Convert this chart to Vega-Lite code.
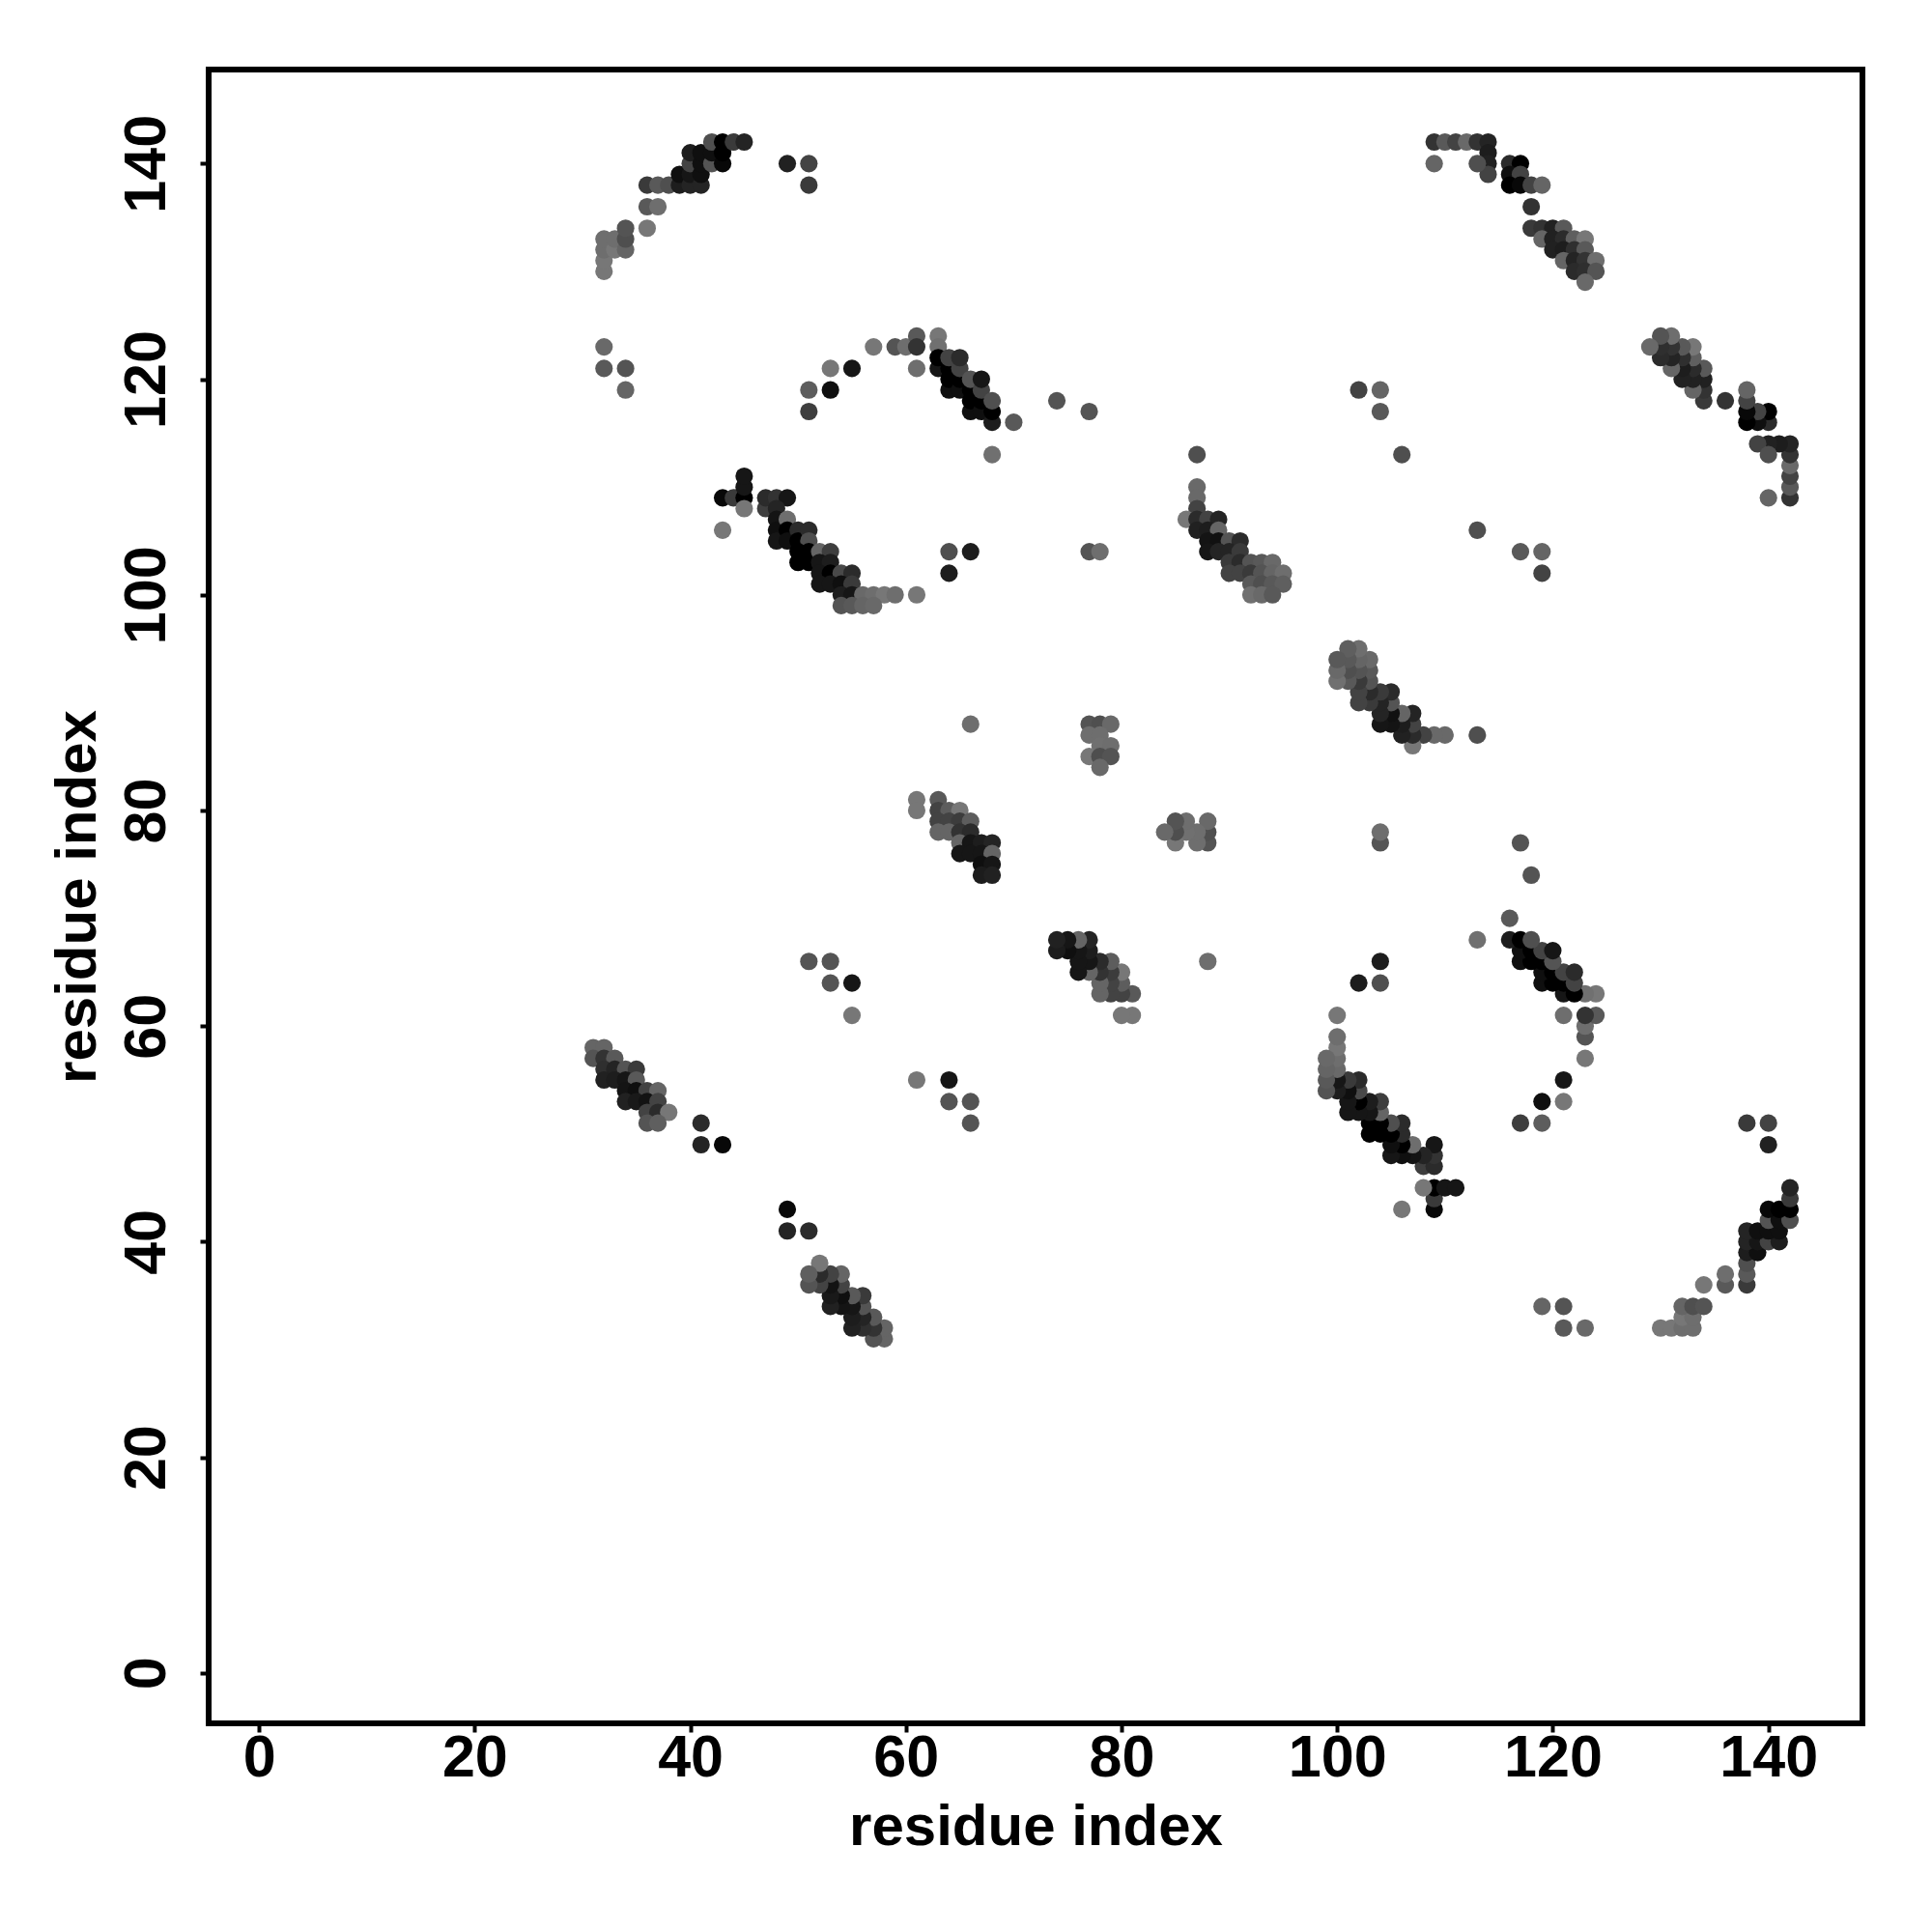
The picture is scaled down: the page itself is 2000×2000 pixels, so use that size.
{"$schema":"https://vega.github.io/schema/vega-lite/v6.json","autosize":"none","padding":{"left":216,"top":72,"right":72,"bottom":216},"width":1712,"height":1712,"background":"white","config":{"view":{"stroke":"#000","strokeWidth":6,"fill":"white"},"font":"Liberation Sans"},
"data":{"values":[
{"x":32,"y":130,"s":119},{"x":32,"y":131,"s":119},{"x":32,"y":132,"s":110},{"x":32,"y":133,"s":110},{"x":33,"y":132,"s":119},{"x":33,"y":133,"s":110},{"x":34,"y":132,"s":102},{"x":34,"y":133,"s":80},{"x":34,"y":134,"s":85},{"x":36,"y":134,"s":119},{"x":36,"y":136,"s":90},{"x":37,"y":136,"s":110},{"x":36,"y":138,"s":58},{"x":37,"y":138,"s":90},{"x":38,"y":138,"s":80},{"x":39,"y":138,"s":26},{"x":39,"y":139,"s":10},{"x":40,"y":138,"s":34},{"x":40,"y":139,"s":17},{"x":40,"y":140,"s":68},{"x":40,"y":141,"s":26},{"x":41,"y":138,"s":34},{"x":41,"y":139,"s":10},{"x":41,"y":140,"s":10},{"x":41,"y":141,"s":10},{"x":42,"y":140,"s":85},{"x":42,"y":141,"s":10},{"x":42,"y":142,"s":80},{"x":43,"y":140,"s":5},{"x":43,"y":141,"s":0},{"x":43,"y":142,"s":0},{"x":44,"y":142,"s":58},{"x":45,"y":142,"s":34},{"x":49,"y":140,"s":30},{"x":51,"y":140,"s":68},{"x":51,"y":138,"s":58},{"x":32,"y":123,"s":106},{"x":32,"y":121,"s":90},{"x":34,"y":121,"s":85},{"x":34,"y":119,"s":102},
{"y":32,"x":130,"s":119},{"y":32,"x":131,"s":119},{"y":32,"x":132,"s":110},{"y":32,"x":133,"s":110},{"y":33,"x":132,"s":119},{"y":33,"x":133,"s":110},{"y":34,"x":132,"s":102},{"y":34,"x":133,"s":80},{"y":34,"x":134,"s":85},{"y":36,"x":134,"s":119},{"y":36,"x":136,"s":90},{"y":37,"x":136,"s":110},{"y":36,"x":138,"s":58},{"y":37,"x":138,"s":90},{"y":38,"x":138,"s":80},{"y":39,"x":138,"s":26},{"y":39,"x":139,"s":10},{"y":40,"x":138,"s":34},{"y":40,"x":139,"s":17},{"y":40,"x":140,"s":68},{"y":40,"x":141,"s":26},{"y":41,"x":138,"s":34},{"y":41,"x":139,"s":10},{"y":41,"x":140,"s":10},{"y":41,"x":141,"s":10},{"y":42,"x":140,"s":85},{"y":42,"x":141,"s":10},{"y":42,"x":142,"s":80},{"y":43,"x":140,"s":5},{"y":43,"x":141,"s":0},{"y":43,"x":142,"s":0},{"y":44,"x":142,"s":58},{"y":45,"x":142,"s":34},{"y":49,"x":140,"s":30},{"y":51,"x":140,"s":68},{"y":51,"x":138,"s":58},{"y":32,"x":123,"s":106},{"y":32,"x":121,"s":90},{"y":34,"x":121,"s":85},{"y":34,"x":119,"s":102},
{"x":51,"y":119,"s":94},{"x":51,"y":117,"s":62},{"x":53,"y":121,"s":119},{"x":53,"y":119,"s":10},{"x":55,"y":121,"s":17},{"x":57,"y":123,"s":119},{"x":59,"y":123,"s":85},{"x":60,"y":123,"s":110},{"x":61,"y":124,"s":90},{"x":61,"y":123,"s":51},{"x":61,"y":121,"s":110},{"x":63,"y":124,"s":119},{"x":63,"y":123,"s":112},{"x":63,"y":121,"s":17},{"x":63,"y":122,"s":0},{"x":64,"y":119,"s":10},{"x":64,"y":120,"s":0},{"x":64,"y":121,"s":0},{"x":64,"y":122,"s":68},{"x":65,"y":119,"s":10},{"x":65,"y":120,"s":0},{"x":65,"y":121,"s":68},{"x":65,"y":122,"s":42},{"x":66,"y":117,"s":10},{"x":66,"y":118,"s":0},{"x":66,"y":119,"s":0},{"x":66,"y":120,"s":85},{"x":67,"y":117,"s":10},{"x":67,"y":118,"s":0},{"x":67,"y":119,"s":68},{"x":67,"y":120,"s":17},{"x":68,"y":116,"s":26},{"x":68,"y":117,"s":0},{"x":68,"y":118,"s":80},{"x":70,"y":116,"s":90},{"x":68,"y":113,"s":112},
{"y":51,"x":119,"s":94},{"y":51,"x":117,"s":62},{"y":53,"x":121,"s":119},{"y":53,"x":119,"s":10},{"y":55,"x":121,"s":17},{"y":57,"x":123,"s":119},{"y":59,"x":123,"s":85},{"y":60,"x":123,"s":110},{"y":61,"x":124,"s":90},{"y":61,"x":123,"s":51},{"y":61,"x":121,"s":110},{"y":63,"x":124,"s":119},{"y":63,"x":123,"s":112},{"y":63,"x":121,"s":17},{"y":63,"x":122,"s":0},{"y":64,"x":119,"s":10},{"y":64,"x":120,"s":0},{"y":64,"x":121,"s":0},{"y":64,"x":122,"s":68},{"y":65,"x":119,"s":10},{"y":65,"x":120,"s":0},{"y":65,"x":121,"s":68},{"y":65,"x":122,"s":42},{"y":66,"x":117,"s":10},{"y":66,"x":118,"s":0},{"y":66,"x":119,"s":0},{"y":66,"x":120,"s":85},{"y":67,"x":117,"s":10},{"y":67,"x":118,"s":0},{"y":67,"x":119,"s":68},{"y":67,"x":120,"s":17},{"y":68,"x":116,"s":26},{"y":68,"x":117,"s":0},{"y":68,"x":118,"s":80},{"y":70,"x":116,"s":90},{"y":68,"x":113,"s":112},
{"x":43,"y":109,"s":5},{"x":44,"y":109,"s":58},{"x":45,"y":109,"s":0},{"x":45,"y":110,"s":17},{"x":45,"y":111,"s":17},{"x":45,"y":108,"s":119},{"x":43,"y":106,"s":119},{"x":47,"y":108,"s":62},{"x":47,"y":109,"s":42},{"x":48,"y":109,"s":51},{"x":49,"y":109,"s":17},{"x":48,"y":108,"s":34},{"x":48,"y":107,"s":15},{"x":48,"y":106,"s":10},{"x":48,"y":105,"s":17},{"x":49,"y":107,"s":110},{"x":49,"y":106,"s":0},{"x":49,"y":105,"s":10},{"x":50,"y":106,"s":42},{"x":50,"y":105,"s":0},{"x":51,"y":106,"s":42},{"x":51,"y":105,"s":80},{"x":50,"y":104,"s":0},{"x":51,"y":104,"s":0},{"x":50,"y":103,"s":0},{"x":51,"y":103,"s":0},{"x":52,"y":104,"s":102},{"x":53,"y":104,"s":62},{"x":52,"y":103,"s":17},{"x":53,"y":103,"s":26},{"x":52,"y":102,"s":17},{"x":53,"y":102,"s":0},{"x":54,"y":102,"s":74},{"x":55,"y":102,"s":42},{"x":52,"y":101,"s":17},{"x":53,"y":101,"s":17},{"x":54,"y":101,"s":10},{"x":55,"y":101,"s":58},{"x":54,"y":100,"s":26},{"x":55,"y":100,"s":17},{"x":56,"y":100,"s":106},{"x":57,"y":100,"s":110},{"x":58,"y":100,"s":119},{"x":59,"y":100,"s":110},{"x":61,"y":100,"s":119},{"x":54,"y":99,"s":85},{"x":55,"y":99,"s":90},{"x":56,"y":99,"s":102},{"x":57,"y":99,"s":106},{"x":64,"y":104,"s":80},{"x":66,"y":104,"s":26},{"x":64,"y":102,"s":26},
{"y":43,"x":109,"s":5},{"y":44,"x":109,"s":58},{"y":45,"x":109,"s":0},{"y":45,"x":110,"s":17},{"y":45,"x":111,"s":17},{"y":45,"x":108,"s":119},{"y":43,"x":106,"s":119},{"y":47,"x":108,"s":62},{"y":47,"x":109,"s":42},{"y":48,"x":109,"s":51},{"y":49,"x":109,"s":17},{"y":48,"x":108,"s":34},{"y":48,"x":107,"s":15},{"y":48,"x":106,"s":10},{"y":48,"x":105,"s":17},{"y":49,"x":107,"s":110},{"y":49,"x":106,"s":0},{"y":49,"x":105,"s":10},{"y":50,"x":106,"s":42},{"y":50,"x":105,"s":0},{"y":51,"x":106,"s":42},{"y":51,"x":105,"s":80},{"y":50,"x":104,"s":0},{"y":51,"x":104,"s":0},{"y":50,"x":103,"s":0},{"y":51,"x":103,"s":0},{"y":52,"x":104,"s":102},{"y":53,"x":104,"s":62},{"y":52,"x":103,"s":17},{"y":53,"x":103,"s":26},{"y":52,"x":102,"s":17},{"y":53,"x":102,"s":0},{"y":54,"x":102,"s":74},{"y":55,"x":102,"s":42},{"y":52,"x":101,"s":17},{"y":53,"x":101,"s":17},{"y":54,"x":101,"s":10},{"y":55,"x":101,"s":58},{"y":54,"x":100,"s":26},{"y":55,"x":100,"s":17},{"y":56,"x":100,"s":106},{"y":57,"x":100,"s":110},{"y":58,"x":100,"s":119},{"y":59,"x":100,"s":110},{"y":61,"x":100,"s":119},{"y":54,"x":99,"s":85},{"y":55,"x":99,"s":90},{"y":56,"x":99,"s":102},{"y":57,"x":99,"s":106},{"y":64,"x":104,"s":80},{"y":66,"x":104,"s":26},{"y":64,"x":102,"s":26},
{"x":31,"y":58,"s":102},{"x":32,"y":58,"s":102},{"x":31,"y":57,"s":85},{"x":32,"y":57,"s":51},{"x":33,"y":57,"s":90},{"x":32,"y":56,"s":46},{"x":33,"y":56,"s":34},{"x":34,"y":56,"s":85},{"x":35,"y":56,"s":58},{"x":32,"y":55,"s":30},{"x":33,"y":55,"s":26},{"x":34,"y":55,"s":17},{"x":35,"y":55,"s":90},{"x":34,"y":54,"s":15},{"x":35,"y":54,"s":10},{"x":36,"y":54,"s":68},{"x":37,"y":54,"s":102},{"x":34,"y":53,"s":30},{"x":35,"y":53,"s":21},{"x":36,"y":53,"s":14},{"x":37,"y":53,"s":68},{"x":36,"y":52,"s":68},{"x":37,"y":52,"s":42},{"x":38,"y":52,"s":119},{"x":36,"y":51,"s":85},{"x":37,"y":51,"s":96},{"x":41,"y":51,"s":42},{"x":41,"y":49,"s":34},{"x":43,"y":49,"s":5},
{"y":31,"x":58,"s":102},{"y":32,"x":58,"s":102},{"y":31,"x":57,"s":85},{"y":32,"x":57,"s":51},{"y":33,"x":57,"s":90},{"y":32,"x":56,"s":46},{"y":33,"x":56,"s":34},{"y":34,"x":56,"s":85},{"y":35,"x":56,"s":58},{"y":32,"x":55,"s":30},{"y":33,"x":55,"s":26},{"y":34,"x":55,"s":17},{"y":35,"x":55,"s":90},{"y":34,"x":54,"s":15},{"y":35,"x":54,"s":10},{"y":36,"x":54,"s":68},{"y":37,"x":54,"s":102},{"y":34,"x":53,"s":30},{"y":35,"x":53,"s":21},{"y":36,"x":53,"s":14},{"y":37,"x":53,"s":68},{"y":36,"x":52,"s":68},{"y":37,"x":52,"s":42},{"y":38,"x":52,"s":119},{"y":36,"x":51,"s":85},{"y":37,"x":51,"s":96},{"y":41,"x":51,"s":42},{"y":41,"x":49,"s":34},{"y":43,"x":49,"s":5},
{"x":51,"y":66,"s":85},{"x":53,"y":66,"s":85},{"x":53,"y":64,"s":85},{"x":55,"y":64,"s":17},{"x":55,"y":61,"s":119},{"y":51,"x":66,"s":85},{"y":53,"x":66,"s":85},{"y":53,"x":64,"s":85},{"y":55,"x":64,"s":17},{"y":55,"x":61,"s":119},
{"x":61,"y":81,"s":119},{"x":63,"y":81,"s":90},{"x":61,"y":80,"s":119},{"x":63,"y":80,"s":68},{"x":64,"y":80,"s":94},{"x":65,"y":80,"s":119},{"x":63,"y":79,"s":68},{"x":64,"y":79,"s":68},{"x":65,"y":79,"s":60},{"x":66,"y":79,"s":94},{"x":63,"y":78,"s":102},{"x":64,"y":78,"s":102},{"x":65,"y":78,"s":51},{"x":66,"y":78,"s":42},{"x":65,"y":77,"s":102},{"x":66,"y":77,"s":17},{"x":67,"y":77,"s":26},{"x":68,"y":77,"s":34},{"x":65,"y":76,"s":17},{"x":66,"y":76,"s":17},{"x":67,"y":76,"s":17},{"x":68,"y":76,"s":102},{"x":67,"y":75,"s":10},{"x":68,"y":75,"s":17},{"x":67,"y":74,"s":24},{"x":68,"y":74,"s":30},
{"y":61,"x":81,"s":119},{"y":63,"x":81,"s":90},{"y":61,"x":80,"s":119},{"y":63,"x":80,"s":68},{"y":64,"x":80,"s":94},{"y":65,"x":80,"s":119},{"y":63,"x":79,"s":68},{"y":64,"x":79,"s":68},{"y":65,"x":79,"s":60},{"y":66,"x":79,"s":94},{"y":63,"x":78,"s":102},{"y":64,"x":78,"s":102},{"y":65,"x":78,"s":51},{"y":66,"x":78,"s":42},{"y":65,"x":77,"s":102},{"y":66,"x":77,"s":17},{"y":67,"x":77,"s":26},{"y":68,"x":77,"s":34},{"y":65,"x":76,"s":17},{"y":66,"x":76,"s":17},{"y":67,"x":76,"s":17},{"y":68,"x":76,"s":102},{"y":67,"x":75,"s":10},{"y":68,"x":75,"s":17},{"y":67,"x":74,"s":24},{"y":68,"x":74,"s":30},
{"x":66,"y":88,"s":110},{"x":77,"y":88,"s":85},{"x":78,"y":88,"s":80},{"x":79,"y":88,"s":106},{"x":77,"y":87,"s":110},{"x":78,"y":87,"s":110},{"x":78,"y":86,"s":112},{"x":79,"y":86,"s":110},{"x":77,"y":85,"s":119},{"x":78,"y":85,"s":79},{"x":79,"y":85,"s":85},{"x":78,"y":84,"s":106},{"x":77,"y":104,"s":85},{"x":78,"y":104,"s":110},{"x":74,"y":118,"s":85},{"x":77,"y":117,"s":85},{"x":87,"y":113,"s":80},
{"y":66,"x":88,"s":110},{"y":77,"x":88,"s":85},{"y":78,"x":88,"s":80},{"y":79,"x":88,"s":106},{"y":77,"x":87,"s":110},{"y":78,"x":87,"s":110},{"y":78,"x":86,"s":112},{"y":79,"x":86,"s":110},{"y":77,"x":85,"s":119},{"y":78,"x":85,"s":79},{"y":79,"x":85,"s":85},{"y":78,"x":84,"s":106},{"y":77,"x":104,"s":85},{"y":78,"x":104,"s":110},{"y":74,"x":118,"s":85},{"y":77,"x":117,"s":85},{"y":87,"x":113,"s":80},
{"x":87,"y":110,"s":106},{"x":87,"y":109,"s":106},{"x":87,"y":108,"s":68},{"x":86,"y":107,"s":119},{"x":87,"y":107,"s":42},{"x":88,"y":107,"s":68},{"x":89,"y":107,"s":34},{"x":87,"y":106,"s":30},{"x":88,"y":106,"s":26},{"x":89,"y":106,"s":102},{"x":88,"y":105,"s":15},{"x":89,"y":105,"s":12},{"x":90,"y":105,"s":85},{"x":91,"y":105,"s":42},{"x":88,"y":104,"s":17},{"x":89,"y":104,"s":34},{"x":90,"y":104,"s":34},{"x":91,"y":104,"s":58},{"x":90,"y":103,"s":58},{"x":91,"y":103,"s":42},{"x":92,"y":103,"s":85},{"x":93,"y":103,"s":90},{"x":94,"y":103,"s":106},{"x":90,"y":102,"s":68},{"x":91,"y":102,"s":68},{"x":92,"y":102,"s":58},{"x":93,"y":102,"s":85},{"x":94,"y":102,"s":102},{"x":95,"y":102,"s":110},{"x":92,"y":101,"s":90},{"x":93,"y":101,"s":80},{"x":94,"y":101,"s":90},{"x":95,"y":101,"s":96},{"x":92,"y":100,"s":112},{"x":93,"y":100,"s":106},{"x":94,"y":100,"s":90},
{"y":87,"x":110,"s":106},{"y":87,"x":109,"s":106},{"y":87,"x":108,"s":68},{"y":86,"x":107,"s":119},{"y":87,"x":107,"s":42},{"y":88,"x":107,"s":68},{"y":89,"x":107,"s":34},{"y":87,"x":106,"s":30},{"y":88,"x":106,"s":26},{"y":89,"x":106,"s":102},{"y":88,"x":105,"s":15},{"y":89,"x":105,"s":12},{"y":90,"x":105,"s":85},{"y":91,"x":105,"s":42},{"y":88,"x":104,"s":17},{"y":89,"x":104,"s":34},{"y":90,"x":104,"s":34},{"y":91,"x":104,"s":58},{"y":90,"x":103,"s":58},{"y":91,"x":103,"s":42},{"y":92,"x":103,"s":85},{"y":93,"x":103,"s":90},{"y":94,"x":103,"s":106},{"y":90,"x":102,"s":68},{"y":91,"x":102,"s":68},{"y":92,"x":102,"s":58},{"y":93,"x":102,"s":85},{"y":94,"x":102,"s":102},{"y":95,"x":102,"s":110},{"y":92,"x":101,"s":90},{"y":93,"x":101,"s":80},{"y":94,"x":101,"s":90},{"y":95,"x":101,"s":96},{"y":92,"x":100,"s":112},{"y":93,"x":100,"s":106},{"y":94,"x":100,"s":90},
{"x":102,"y":119,"s":68},{"x":104,"y":119,"s":102},{"x":104,"y":117,"s":90},{"x":106,"y":113,"s":80},{"y":102,"x":119,"s":68},{"y":104,"x":119,"s":102},{"y":104,"x":117,"s":90},{"y":106,"x":113,"s":80},
{"x":109,"y":142,"s":51},{"x":110,"y":142,"s":90},{"x":111,"y":142,"s":68},{"x":112,"y":142,"s":106},{"x":113,"y":142,"s":51},{"x":114,"y":142,"s":34},{"x":114,"y":141,"s":26},{"x":114,"y":140,"s":30},{"x":114,"y":139,"s":68},{"x":113,"y":140,"s":80},{"x":109,"y":140,"s":102},{"x":116,"y":140,"s":42},{"x":117,"y":140,"s":0},{"x":116,"y":139,"s":10},{"x":117,"y":139,"s":68},{"x":116,"y":138,"s":0},{"x":117,"y":138,"s":5},{"x":118,"y":138,"s":68},{"x":119,"y":138,"s":102},{"x":118,"y":136,"s":51},{"x":118,"y":134,"s":58},{"x":119,"y":134,"s":51},{"x":120,"y":134,"s":30},{"x":121,"y":134,"s":90},{"x":119,"y":133,"s":102},{"x":120,"y":133,"s":30},{"x":121,"y":133,"s":42},{"x":122,"y":133,"s":96},{"x":123,"y":133,"s":119},{"x":120,"y":132,"s":30},{"x":121,"y":132,"s":26},{"x":122,"y":132,"s":46},{"x":123,"y":132,"s":90},{"x":121,"y":131,"s":102},{"x":122,"y":131,"s":34},{"x":123,"y":131,"s":51},{"x":124,"y":131,"s":110},{"x":122,"y":130,"s":42},{"x":123,"y":130,"s":46},{"x":124,"y":130,"s":85},{"x":123,"y":129,"s":106},
{"y":109,"x":142,"s":51},{"y":110,"x":142,"s":90},{"y":111,"x":142,"s":68},{"y":112,"x":142,"s":106},{"y":113,"x":142,"s":51},{"y":114,"x":142,"s":34},{"y":114,"x":141,"s":26},{"y":114,"x":140,"s":30},{"y":114,"x":139,"s":68},{"y":113,"x":140,"s":80},{"y":109,"x":140,"s":102},{"y":116,"x":140,"s":42},{"y":117,"x":140,"s":0},{"y":116,"x":139,"s":10},{"y":117,"x":139,"s":68},{"y":116,"x":138,"s":0},{"y":117,"x":138,"s":5},{"y":118,"x":138,"s":68},{"y":119,"x":138,"s":102},{"y":118,"x":136,"s":51},{"y":118,"x":134,"s":58},{"y":119,"x":134,"s":51},{"y":120,"x":134,"s":30},{"y":121,"x":134,"s":90},{"y":119,"x":133,"s":102},{"y":120,"x":133,"s":30},{"y":121,"x":133,"s":42},{"y":122,"x":133,"s":96},{"y":123,"x":133,"s":119},{"y":120,"x":132,"s":30},{"y":121,"x":132,"s":26},{"y":122,"x":132,"s":46},{"y":123,"x":132,"s":90},{"y":121,"x":131,"s":102},{"y":122,"x":131,"s":34},{"y":123,"x":131,"s":51},{"y":124,"x":131,"s":110},{"y":122,"x":130,"s":42},{"y":123,"x":130,"s":46},{"y":124,"x":130,"s":85},{"y":123,"x":129,"s":106}
]},
"mark":{"type":"circle","size":330,"opacity":1,"clip":false},
"encoding":{
"x":{"field":"x","type":"quantitative","scale":{"domain":[-4.67,148.72],"nice":false,"zero":false},"axis":{"title":"residue index","values":[0,20,40,60,80,100,120,140],"grid":false,"domain":false,"ticks":true,"tickSize":9,"tickWidth":4,"tickColor":"#000","labelColor":"#000","labelFont":"Liberation Sans","labelFontWeight":"bold","labelFontSize":61,"labelBaseline":"alphabetic","labelPadding":45,"labelFlush":false,"labelOverlap":false,"titleFont":"Liberation Sans","titleFontWeight":"bold","titleFontSize":60,"titleColor":"#000","titleBaseline":"alphabetic","titleX":856,"titleY":125,"titleAlign":"center"}},
"y":{"field":"y","type":"quantitative","scale":{"domain":[-4.67,148.72],"nice":false,"zero":false},"axis":{"title":"residue index","values":[0,20,40,60,80,100,120,140],"grid":false,"domain":false,"ticks":true,"tickSize":9,"tickWidth":4,"tickColor":"#000","labelColor":"#000","labelFont":"Liberation Sans","labelFontWeight":"bold","labelFontSize":61,"labelAngle":-90,"labelAlign":"center","labelBaseline":"alphabetic","labelPadding":37,"labelFlush":false,"labelOverlap":false,"titleFont":"Liberation Sans","titleFontWeight":"bold","titleFontSize":60,"titleColor":"#000","titleAngle":-90,"titleBaseline":"alphabetic","titleAlign":"center","titleX":-118,"titleY":856}},
"color":{"field":"s","type":"quantitative","scale":{"domain":[0,119],"range":["#000000","#777777"]},"legend":null},
"order":[{"field":"x","type":"quantitative"},{"field":"y","type":"quantitative"}]
}}
